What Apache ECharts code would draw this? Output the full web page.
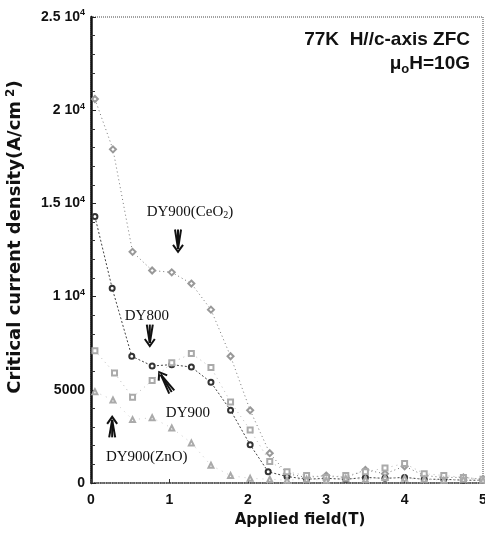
<!DOCTYPE html>
<html>
<head>
<meta charset="utf-8">
<script src="https://cdn.jsdelivr.net/npm/echarts@6/dist/echarts.min.js"></script>
<style>
  html, body { margin: 0; padding: 0; background: #fff; }
  #chart { width: 485px; height: 537px; }
</style>
</head>
<body>
<div id="chart"></div>
<script>
// applied field (T) for each sample, 0.25 T steps
const fieldCeO2 = [0.05, 0.28, 0.53, 0.78, 1.03, 1.28, 1.53, 1.78, 2.03, 2.28, 2.5, 2.75, 3.0, 3.25, 3.5, 3.75, 4.0, 4.25, 4.5, 4.75, 5.0];
const jcCeO2 = [20600, 17900, 12400, 11400, 11300, 10700, 9300, 6800, 3900, 1600, 500, 300, 400, 300, 700, 500, 900, 400, 300, 300, 200];

const field800 = [0.05, 0.27, 0.52, 0.78, 1.03, 1.28, 1.53, 1.78, 2.03, 2.26, 2.5, 2.75, 3.0, 3.25, 3.5, 3.75, 4.0, 4.25, 4.5, 4.75, 5.0];
const jc800 = [14300, 10450, 6800, 6280, 6350, 6220, 5400, 3900, 2050, 600, 350, 200, 250, 200, 300, 250, 300, 200, 200, 150, 150];

const field900 = [0.05, 0.3, 0.53, 0.78, 1.03, 1.28, 1.53, 1.78, 2.03, 2.28, 2.5, 2.75, 3.0, 3.25, 3.5, 3.75, 4.0, 4.25, 4.5, 4.75, 5.0];
const jc900 = [7100, 5900, 4600, 5500, 6450, 6950, 6200, 4350, 2850, 1150, 600, 400, 300, 400, 600, 800, 1050, 500, 400, 300, 200];

const fieldZnO = [0.05, 0.28, 0.53, 0.78, 1.03, 1.28, 1.53, 1.78, 2.03, 2.28, 2.5, 2.75, 3.0, 3.25, 3.5, 3.75, 4.0, 4.25, 4.5, 4.75, 5.0];
const jcZnO = [4900, 4450, 3400, 3500, 2950, 2150, 950, 400, 250, 200, 150, 200, 150, 250, 200, 300, 250, 200, 150, 200, 150];

const xTicks = [0, 1, 2, 3, 4, 5];
const yTicks = [0, 5000, 10000, 15000, 20000, 25000];

const chart = echarts.init(document.getElementById("chart"));

function pairs(xs, ys) {
    return xs.map((x, i) => [x, ys[i]]);
}

function yLabel(v) {
    if (v < 10000) return String(v);
    return (v / 10000) + " 10{sup|4}";
}

const boldFont = "Liberation Sans";
const wideFont = "DejaVu Sans";
const serifFont = "Liberation Serif";

const option = {
    animation: false,
    backgroundColor: "#fff",
    grid: {
        left: 91, right: 2, top: 17, bottom: 54,
        outerBoundsMode: "none",
        containLabel: false,
        show: true,
        borderColor: "#444",
        borderWidth: 1,
        borderType: "dotted"
    },
    xAxis: {
        type: "value",
        min: xTicks[0],
        max: xTicks[xTicks.length - 1],
        interval: 1,
        name: "Applied field(T)",
        nameLocation: "middle",
        nameGap: 30,
        nameTextStyle: {
            fontFamily: wideFont, fontWeight: "bold", fontSize: 15, color: "#111",
            padding: [0, 0, 0, 26]
        },
        axisLine: { show: true, lineStyle: { color: "#444", type: "dotted", width: 1.5 } },
        axisTick: { show: true, inside: true, length: 4, lineStyle: { color: "#333" } },
        axisLabel: { fontFamily: boldFont, fontWeight: "bold", fontSize: 14, color: "#111", margin: 10 },
        splitLine: { show: false }
    },
    yAxis: {
        type: "value",
        min: yTicks[0],
        max: yTicks[yTicks.length - 1],
        interval: 5000,
        name: "Critical current density(A/cm{sup|2})",
        nameLocation: "middle",
        nameGap: 65,
        nameTextStyle: {
            fontFamily: wideFont, fontWeight: "bold", fontSize: 18, color: "#111",
            padding: [0, 0, 0, 26],
            rich: { sup: { fontFamily: wideFont, fontWeight: "bold", fontSize: 12, verticalAlign: "top", padding: [0, 0, 9, 4] } }
        },
        axisLine: { show: true, lineStyle: { color: "#111", width: 2.5 } },
        axisTick: { show: true, inside: true, length: 5, lineStyle: { color: "#222" } },
        minorTick: { show: true, splitNumber: 5, length: 4, lineStyle: { color: "#333" } },
        axisLabel: {
            fontFamily: boldFont, fontWeight: "bold", fontSize: 14, color: "#111", margin: 6,
            formatter: yLabel,
            rich: { sup: { fontFamily: boldFont, fontWeight: "bold", fontSize: 9, verticalAlign: "top", padding: [0, 0, 8, 0] } }
        },
        splitLine: { show: false }
    },
    series: [
        {
            name: "DY900(CeO2)",
            type: "line",
            data: pairs(fieldCeO2, jcCeO2),
            symbol: "emptyDiamond",
            symbolSize: 6,
            lineStyle: { color: "#777", width: 1, type: [1, 3] },
            itemStyle: { color: "#999", borderWidth: 1 }
        },
        {
            name: "DY800",
            type: "line",
            data: pairs(field800, jc800),
            symbol: "emptyCircle",
            symbolSize: 5,
            lineStyle: { color: "#444", width: 1, type: [2, 2] },
            itemStyle: { color: "#333", borderWidth: 1.3 }
        },
        {
            name: "DY900",
            type: "line",
            data: pairs(field900, jc900),
            symbol: "emptyRect",
            symbolSize: 5,
            lineStyle: { color: "#bbb", width: 1, type: [1, 4] },
            itemStyle: { color: "#aaa", borderWidth: 1 }
        },
        {
            name: "DY900(ZnO)",
            type: "line",
            data: pairs(fieldZnO, jcZnO),
            symbol: "emptyTriangle",
            symbolSize: 5,
            lineStyle: { color: "#ccc", width: 1, type: [1, 5] },
            itemStyle: { color: "#aaa", borderWidth: 1 }
        }
    ]
};

chart.setOption(option);

// arrows and labels placed in data coordinates
function px(x, y) {
    return chart.convertToPixel({ gridIndex: 0 }, [x, y]);
}

function arrow(tail, tip) {
    const a = px(tail[0], tail[1]);
    const b = px(tip[0], tip[1]);
    const dx = b[0] - a[0], dy = b[1] - a[1];
    const len = Math.hypot(dx, dy);
    const ux = dx / len, uy = dy / len;
    const nx = -uy, ny = ux;
    const head = 7;
    const style = { stroke: "#111", lineWidth: 2, fill: null };
    const els = [];
    [-3, 0, 3].forEach((o) => {
        els.push({
            type: "line",
            shape: { x1: a[0] + nx * o, y1: a[1] + ny * o, x2: b[0] - ux * 3, y2: b[1] - uy * 3 },
            style: style
        });
    });
    els.push({
        type: "polyline",
        shape: {
            points: [
                [b[0] - ux * head + nx * 5, b[1] - uy * head + ny * 5],
                [b[0], b[1]],
                [b[0] - ux * head - nx * 5, b[1] - uy * head - ny * 5]
            ]
        },
        style: style
    });
    return els;
}

function label(x, y, text) {
    const p = px(x, y);
    return {
        type: "text",
        x: p[0], y: p[1],
        style: {
            text: text,
            fontFamily: serifFont, fontSize: 15, fill: "#111",
            verticalAlign: "middle",
            rich: { sub: { fontFamily: serifFont, fontSize: 10, verticalAlign: "bottom", padding: [6, 0, 0, 0] } }
        }
    };
}

const graphics = [
    label(0.71, 14540, "DY900(CeO{sub|2})"),
    label(0.43, 8960, "DY800"),
    label(0.955, 3755, "DY900"),
    label(0.19, 1395, "DY900(ZnO)"),
    ...arrow([1.11, 13600], [1.11, 12400]),
    ...arrow([0.75, 8500], [0.75, 7350]),
    ...arrow([1.03, 4880], [0.87, 5950]),
    ...arrow([0.27, 2450], [0.27, 3550]),
    {
        type: "text",
        right: 15, top: 30,
        style: { text: "77K  H//c-axis ZFC", fontFamily: boldFont, fontWeight: "bold", fontSize: 19, fill: "#111" }
    },
    {
        type: "text",
        right: 15, top: 54,
        style: {
            text: "μ{sub|o}H=10G", fontFamily: boldFont, fontWeight: "bold", fontSize: 19, fill: "#111",
            rich: { sub: { fontFamily: boldFont, fontWeight: "bold", fontSize: 13, padding: [12, 0, 0, 0] } }
        }
    }
];

chart.setOption({ graphic: graphics });
</script>
</body>
</html>
